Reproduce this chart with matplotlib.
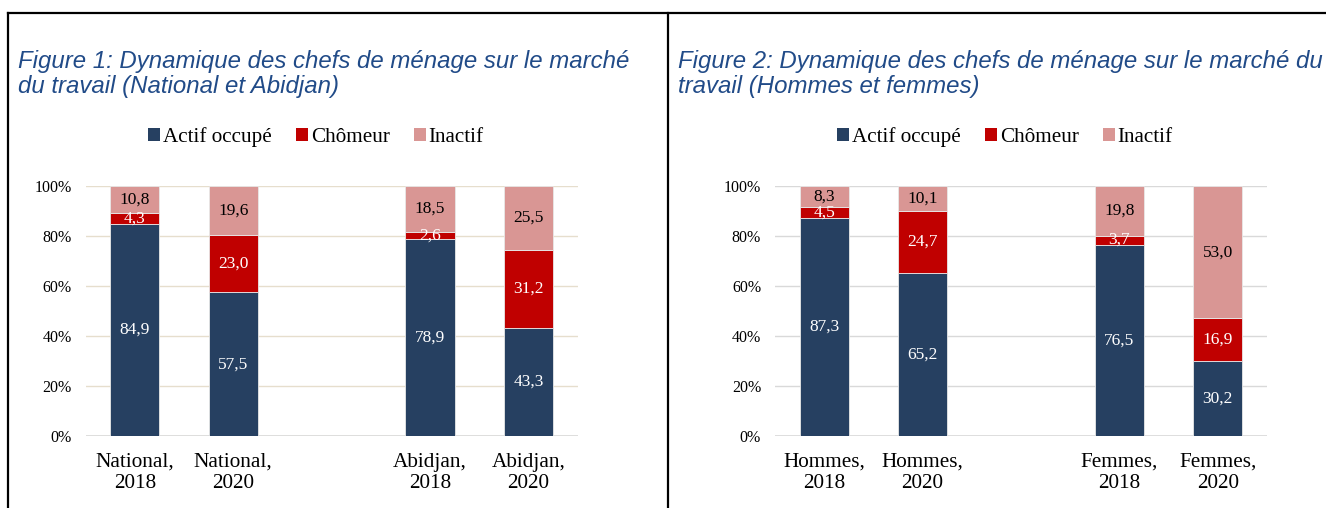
import matplotlib
matplotlib.use("Agg")
import matplotlib.pyplot as plt
from matplotlib.lines import Line2D
from matplotlib.patches import Patch
import numpy as np

# ---- data ----
series = ["Actif occupé", "Chômeur", "Inactif"]
colors = ["#264061", "#C00000", "#D99694"]
label_colors = ["white", "white", "black"]

cats1 = ["National,\n2018", "National,\n2020", "Abidjan,\n2018", "Abidjan,\n2020"]
actif1 = [84.9, 57.5, 78.9, 43.3]
chomeur1 = [4.3, 23.0, 2.6, 31.2]
inactif1 = [10.8, 19.6, 18.5, 25.5]

cats2 = ["Hommes,\n2018", "Hommes,\n2020", "Femmes,\n2018", "Femmes,\n2020"]
actif2 = [87.3, 65.2, 76.5, 30.2]
chomeur2 = [4.5, 24.7, 3.7, 16.9]
inactif2 = [8.3, 10.1, 19.8, 53.0]

title1 = "Figure 1: Dynamique des chefs de ménage sur le marché\ndu travail (National et Abidjan)"
title2 = "Figure 2: Dynamique des chefs de ménage sur le marché du\ntravail (Hommes et femmes)"

positions = [0, 1, 3, 4]
yticks = [0, 20, 40, 60, 80, 100]

SERIF = ["Liberation Serif", "DejaVu Serif"]
SANS = ["Liberation Sans", "DejaVu Sans"]

W, H = 1326, 508
fig = plt.figure(figsize=(W / 100, H / 100), dpi=100)


def px_box(x0, x1, ytop, ybot):
    return [x0 / W, 1 - ybot / H, (x1 - x0) / W, (ybot - ytop) / H]


def draw_panel(rect, cats, data, gridcolor):
    ax = fig.add_axes(rect)
    arr = np.array(data, dtype=float)
    tot = arr.sum(axis=0)
    norm = arr / tot * 100
    bottom = np.zeros(len(cats))
    for i, (vals, raw) in enumerate(zip(norm, arr)):
        ax.bar(positions, vals, width=0.5, bottom=bottom, color=colors[i],
               edgecolor="#E8E8E8", linewidth=0.6, zorder=3)
        for x, b, v, r in zip(positions, bottom, vals, raw):
            ax.text(x, b + v / 2, f"{r:.1f}".replace(".", ","), ha="center", va="center",
                    color=label_colors[i], fontsize=12.5, family=SERIF, zorder=4)
        bottom += vals
    ax.set_xlim(-0.5, 4.5)
    ax.set_ylim(0, 100)
    ax.set_yticks(yticks)
    ax.set_yticklabels([f"{t}%" for t in yticks], family=SERIF, fontsize=11.5)
    ax.set_xticks(positions)
    ax.set_xticklabels(cats, family=SERIF, fontsize=15.3, linespacing=1.2)
    ax.tick_params(axis="both", length=0)
    ax.tick_params(axis="y", pad=10)
    ax.tick_params(axis="x", pad=12)
    for s in ax.spines.values():
        s.set_visible(False)
    ax.grid(axis="y", color=gridcolor, linewidth=1.0, zorder=0)
    ax.axhline(0, color="#D9D9D9", linewidth=1.2, zorder=1)
    ax.set_axisbelow(True)
    return ax


ax1 = draw_panel(px_box(85.5, 577.7, 186, 436), cats1, [actif1, chomeur1, inactif1], "#E6DECD")
ax2 = draw_panel(px_box(775, 1267, 186, 436), cats2, [actif2, chomeur2, inactif2], "#D9D9D9")

# legends
handles = [Patch(facecolor=c, edgecolor="none") for c in colors]
for cx in (316, 1005):
    fig.legend(handles, series, loc="center", bbox_to_anchor=(cx / W, 1 - 137 / H),
               ncol=3, frameon=False, prop={"family": SERIF, "size": 15.2},
               handlelength=0.55, handleheight=0.55, handletextpad=0.15, columnspacing=1.15)

# titles
title_color = "#214B88"
fig.text(18 / W, 1 - 50 / H, title1, ha="left", va="top", fontsize=17.3, style="italic",
         family=SANS, color=title_color, linespacing=1.1)
fig.text(678 / W, 1 - 50 / H, title2, ha="left", va="top", fontsize=17.3, style="italic",
         family=SANS, color=title_color, linespacing=1.1)

# frame lines
fig.add_artist(Line2D([8 / W, 1], [1 - 13 / H, 1 - 13 / H], color="black", lw=1.6, transform=fig.transFigure))
fig.add_artist(Line2D([8 / W, 8 / W], [0, 1 - 13 / H], color="black", lw=1.6, transform=fig.transFigure))
fig.add_artist(Line2D([668 / W, 668 / W], [0, 1 - 13 / H], color="black", lw=1.6, transform=fig.transFigure))

fig.savefig("out.png", dpi=100)
